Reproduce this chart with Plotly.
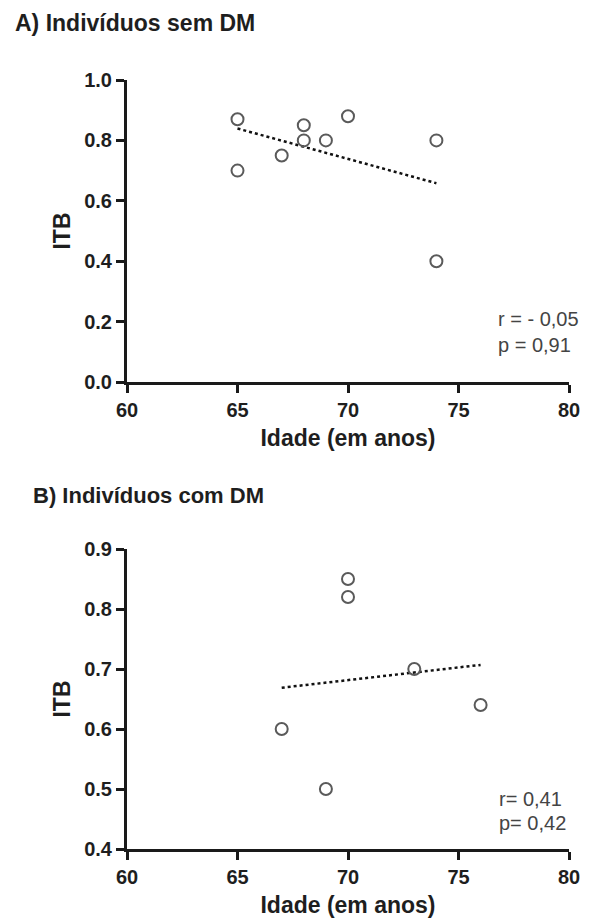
import numpy as np
import plotly.graph_objects as go

# ---- data ----
age_a = [65, 65, 67, 68, 68, 69, 70, 74, 74]
itb_a = [0.87, 0.70, 0.75, 0.85, 0.80, 0.80, 0.88, 0.80, 0.40]
age_b = [70, 70, 73, 76, 67, 69]
itb_b = [0.85, 0.82, 0.70, 0.64, 0.60, 0.50]

title_a = "A) Indivíduos sem DM"
title_b = "B) Indivíduos com DM"
stats_a = ["r = - 0,05", "p = 0,91"]
stats_b = ["r= 0,41", "p= 0,42"]
x_ticks = [60, 65, 70, 75, 80]
y_ticks_a = [0.0, 0.2, 0.4, 0.6, 0.8, 1.0]
y_ticks_b = [0.4, 0.5, 0.6, 0.7, 0.8, 0.9]

# page body has an 8px margin, so the figure is offset by 8px
OFF = 8
W, H = 590 - OFF, 918 - OFF
def px(x):
    return (x - OFF) / W
def py(y):
    return 1 - (y - OFF) / H

FONT = "Liberation Sans, Arial, sans-serif"
AX = "#1a1a1a"
TXT = "#1e1e1e"

fig = go.Figure()

def fit_line(x, y):
    x = np.array(x, float); y = np.array(y, float)
    m, b = np.polyfit(x, y, 1)
    xs = np.array([x.min(), x.max()])
    return xs, m * xs + b

for xa, ya, (x, y) in [("x", "y", (age_a, itb_a)), ("x2", "y2", (age_b, itb_b))]:
    lx, ly = fit_line(x, y)
    fig.add_trace(go.Scatter(x=lx, y=ly, mode="lines", xaxis=xa, yaxis=ya,
                             line=dict(color="#111111", width=2.5, dash="3px,3px"),
                             showlegend=False, hoverinfo="skip"))
    fig.add_trace(go.Scatter(x=x, y=y, mode="markers", xaxis=xa, yaxis=ya,
                             marker=dict(symbol="circle-open", size=12, color="#5a5a5a",
                                         line=dict(color="#5a5a5a", width=2)),
                             showlegend=False))

xdom = [px(127), px(569)]
common_x = dict(range=[60, 80], domain=xdom, tickvals=x_ticks, ticks="outside",
                ticklen=8, tickwidth=3, tickcolor=AX, showline=True, linecolor=AX,
                linewidth=3, showgrid=False, zeroline=False, fixedrange=True,
                automargin=False,
                ticktext=["<b>%d</b>" % v for v in x_ticks],
                tickfont=dict(family=FONT, size=20, color=TXT),
                title=dict(text="<b>Idade (em anos)</b>", standoff=10,
                           font=dict(family=FONT, size=23, color=TXT)))
common_y = dict(ticks="outside", ticklen=8, tickwidth=3, tickcolor=AX, showline=True,
                linecolor=AX, linewidth=3, showgrid=False, zeroline=False,
                automargin=False, fixedrange=True,
                tickfont=dict(family=FONT, size=20, color=TXT),
                title=dict(text="<b>ITB</b>", standoff=8,
                           font=dict(family=FONT, size=23, color=TXT)))

fig.update_layout(
    template="none",
    width=W, height=H, margin=dict(l=0, r=0, t=0, b=0, pad=0),
    plot_bgcolor="white", paper_bgcolor="white",
    xaxis=dict(**common_x, anchor="y"),
    yaxis=dict(**common_y, range=[0, 1.0], domain=[py(382), py(80)], anchor="x",
               tickvals=y_ticks_a, ticktext=["<b>%.1f</b>" % v for v in y_ticks_a]),
    xaxis2=dict(**common_x, anchor="y2"),
    yaxis2=dict(**common_y, range=[0.4, 0.9], domain=[py(849), py(549)], anchor="x2",
                tickvals=y_ticks_b, ticktext=["<b>%.1f</b>" % v for v in y_ticks_b]),
)

anns = []
anns.append(dict(text="<b>%s</b>" % title_a, x=px(13), y=py(23), xref="paper", yref="paper",
                 xanchor="left", yanchor="middle", showarrow=False,
                 font=dict(family=FONT, size=23, color=TXT)))
anns.append(dict(text="<b>%s</b>" % title_b, x=px(31), y=py(495), xref="paper", yref="paper",
                 xanchor="left", yanchor="middle", showarrow=False,
                 font=dict(family=FONT, size=22, color=TXT)))
for txt, yy in zip(stats_a, [319, 345]):
    anns.append(dict(text=txt, x=px(496), y=py(yy), xref="paper", yref="paper",
                     xanchor="left", yanchor="middle", showarrow=False,
                     font=dict(family=FONT, size=20, color="#444444")))
for txt, yy in zip(stats_b, [799, 823]):
    anns.append(dict(text=txt, x=px(497), y=py(yy), xref="paper", yref="paper",
                     xanchor="left", yanchor="middle", showarrow=False,
                     font=dict(family=FONT, size=20, color="#444444")))
fig.update_layout(annotations=anns)

fig.write_html("out.html")
